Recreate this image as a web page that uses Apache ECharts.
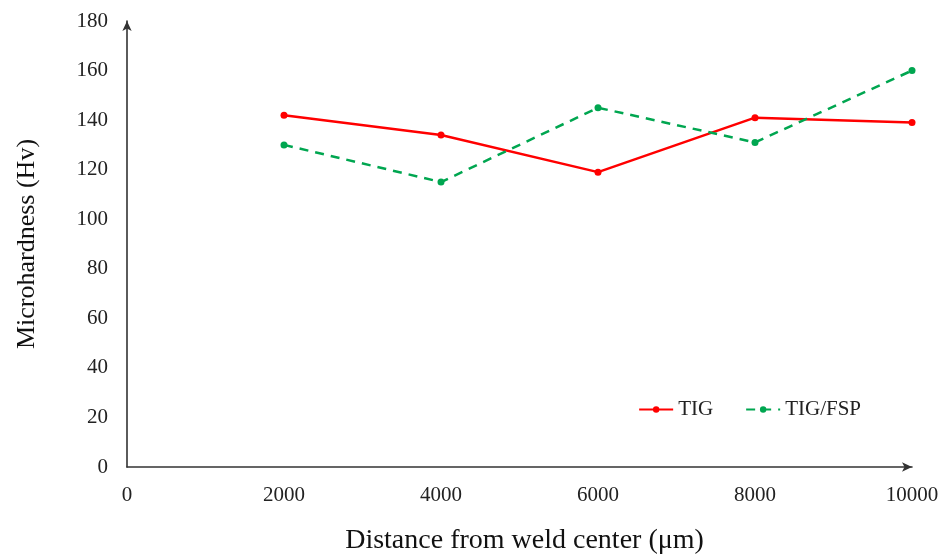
<!DOCTYPE html>
<html>
<head>
<meta charset="utf-8">
<script src="https://cdn.jsdelivr.net/npm/echarts@6/dist/echarts.min.js"></script>
<style>
    html, body { margin: 0; padding: 0; background: #fff; }
    #chart { width: 943px; height: 555px; }
</style>
</head>
<body>
<div id="chart"></div>
<script>
    const distances = [2000, 4000, 6000, 8000, 10000];
    const tigValues = [142, 134, 119, 141, 139];
    const tigFspValues = [130, 115, 145, 131, 160];

    const font = 'Liberation Serif';
    const myChart = echarts.init(document.getElementById('chart'));

    const option = {
        backgroundColor: '#fff',
        textStyle: { fontFamily: font },
        grid: { left: 127, right: 31, top: 21, bottom: 88, containLabel: false, outerBoundsMode: 'none' },
        legend: {
            right: 77,
            top: 394,
            itemWidth: 34,
            itemHeight: 8,
            itemGap: 32,
            textStyle: { fontFamily: font, fontSize: 21, color: '#222' },
            data: ['TIG', 'TIG/FSP']
        },
        xAxis: {
            type: 'value',
            min: 0,
            max: 10000,
            interval: 2000,
            name: 'Distance from weld center (μm)',
            nameLocation: 'middle',
            nameGap: 60,
            nameTextStyle: { fontFamily: font, fontSize: 28, color: '#111', padding: [0, 0, 0, 10] },
            axisLine: { show: true, symbol: ['none', 'arrow'], symbolSize: [7, 10], lineStyle: { color: '#333', width: 1.6 } },
            axisTick: { show: false },
            axisLabel: { fontFamily: font, fontSize: 21, color: '#222', margin: 18, formatter: v => String(v) },
            splitLine: { show: false }
        },
        yAxis: {
            type: 'value',
            min: 0,
            max: 180,
            interval: 20,
            name: 'Microhardness (Hv)',
            nameLocation: 'middle',
            nameGap: 87,
            nameTextStyle: { fontFamily: font, fontSize: 26, color: '#111' },
            axisLine: { show: true, symbol: ['none', 'arrow'], symbolSize: [7, 10], lineStyle: { color: '#333', width: 1.6 } },
            axisTick: { show: false },
            axisLabel: { fontFamily: font, fontSize: 21, color: '#222', margin: 19 },
            splitLine: { show: false }
        },
        series: [
            {
                name: 'TIG',
                type: 'line',
                data: distances.map((d, i) => [d, tigValues[i]]),
                symbol: 'circle',
                symbolSize: 7,
                itemStyle: { color: '#ff0000' },
                lineStyle: { color: '#ff0000', width: 2.5 }
            },
            {
                name: 'TIG/FSP',
                type: 'line',
                data: distances.map((d, i) => [d, tigFspValues[i]]),
                symbol: 'circle',
                symbolSize: 7,
                itemStyle: { color: '#00a650' },
                lineStyle: { color: '#00a650', width: 2.5, type: [9, 7] }
            }
        ]
    };
    myChart.setOption(option);
</script>
</body>
</html>
